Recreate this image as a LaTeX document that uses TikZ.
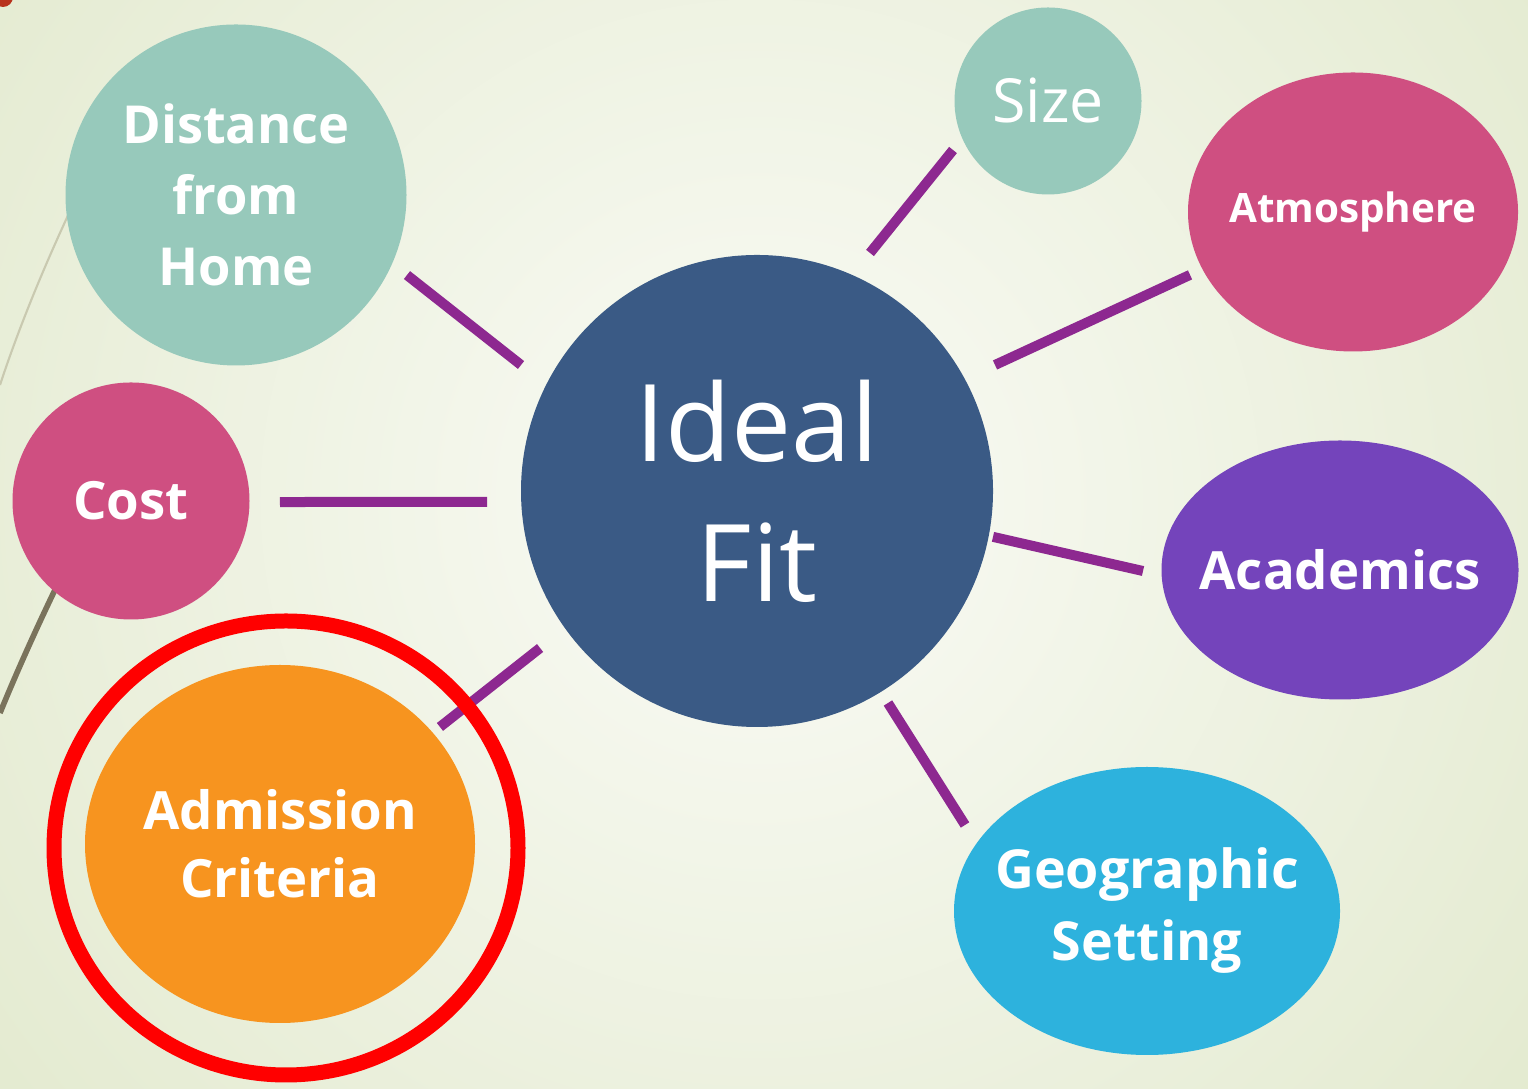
\documentclass[tikz,border=0pt]{standalone}
\usepackage{fontspec}
\setmainfont{Open Sans}
\usetikzlibrary{shapes.geometric,calc}

\definecolor{bgin}{HTML}{FAFBF6}
\definecolor{bgout}{HTML}{E3EACF}
\definecolor{navyc}{HTML}{3A5A85}
\definecolor{tealc}{HTML}{97C9BB}
\definecolor{pinkc}{HTML}{CF4F81}
\definecolor{purplec}{HTML}{7444BB}
\definecolor{orangec}{HTML}{F7941F}
\definecolor{cyanc}{HTML}{2DB2DD}
\definecolor{linkc}{HTML}{8D2890}
\definecolor{markc}{HTML}{B8321C}
\definecolor{lightline}{HTML}{C9C9B0}
\definecolor{darkline}{HTML}{7A735C}

\tikzset{
  bubble/.style={circle,fill=#1,text=white,inner sep=0pt,align=center},
  oval/.style={ellipse,fill=#1,text=white,inner sep=-0.5cm,align=center},
  link/.style={draw=linkc,line width=0.1cm},
  ring/.style={ellipse,draw=red,line width=0.15cm,inner sep=0pt}
}

\begin{document}
\begin{tikzpicture}
  \useasboundingbox (0,0) rectangle (15.28,10.89);
  \clip (0,0) rectangle (15.28,10.89);
  \shade[inner color=bgin,outer color=bgout] (-2.4,-4.1) rectangle (17.6,15.9);
  % slide template bits
  \fill[markc] (0.03,10.92) circle (0.1);
  \draw[draw=lightline,line width=0.6pt] (1.0,9.4) .. controls (0.6,8.6) and (0.25,7.8) .. (0,7.04);
  \draw[draw=darkline,line width=1.6pt] (0.75,5.4) .. controls (0.45,4.8) and (0.2,4.25) .. (0,3.76);
  %
  \node[bubble=navyc,minimum size=4.72cm,font=\fontsize{30.5}{39.8}\selectfont] (ideal) at (7.57,5.98) {Ideal\\Fit};
  \node[bubble=tealc,minimum size=3.41cm,font=\bfseries\fontsize{14.9}{20.2}\selectfont] (dist) at (2.36,8.94) {Distance\\from\\Home};
  \node[bubble=tealc,minimum size=1.87cm,font=\fontsize{17.3}{21}\selectfont] (size) at (10.48,9.88) {Size};
  \node[oval=pinkc,minimum width=3.30cm,minimum height=2.79cm,font=\bfseries\fontsize{11.5}{14}\selectfont] (atmos) at (13.53,8.77) {Atmosphere};
  \node[bubble=pinkc,minimum size=2.37cm,font=\bfseries\fontsize{15}{18}\selectfont] (cost) at (1.31,5.88) {Cost};
  \node[oval=purplec,minimum width=3.57cm,minimum height=2.59cm,font=\bfseries\fontsize{15}{18}\selectfont] (acad) at (13.40,5.19) {Academics};
  \node[oval=orangec,minimum width=3.90cm,minimum height=3.58cm,font=\bfseries\fontsize{15}{19.3}\selectfont] (admis) at (2.80,2.45) {Admission\\Criteria};
  \node[oval=cyanc,minimum width=3.86cm,minimum height=2.88cm,font=\bfseries\fontsize{15.3}{20.5}\selectfont] (geo) at (11.47,1.78) {Geographic\\Setting};
  %
  \foreach \a/\ra/\n/\b/\rb in {151.9/2.675/dist/-25.1/1.888, 64.6/2.635/size/207.3/1.069,
      27.9/2.693/atmos/201.1/1.747, 182.3/2.702/cost/-0.4/1.49, -11.0/2.404/acad/180.3/1.97,
      215.9/2.678/admis/36.2/1.982, -58.3/2.492/geo/154.7/2.013}
    \draw[link] ($(ideal.center)+(\a:\ra)$) -- ($(\n.center)+(\b:\rb)$);
  %
  \node[ring,minimum width=4.64cm,minimum height=4.54cm] (mark) at (2.86,2.41) {};
\end{tikzpicture}
\end{document}
